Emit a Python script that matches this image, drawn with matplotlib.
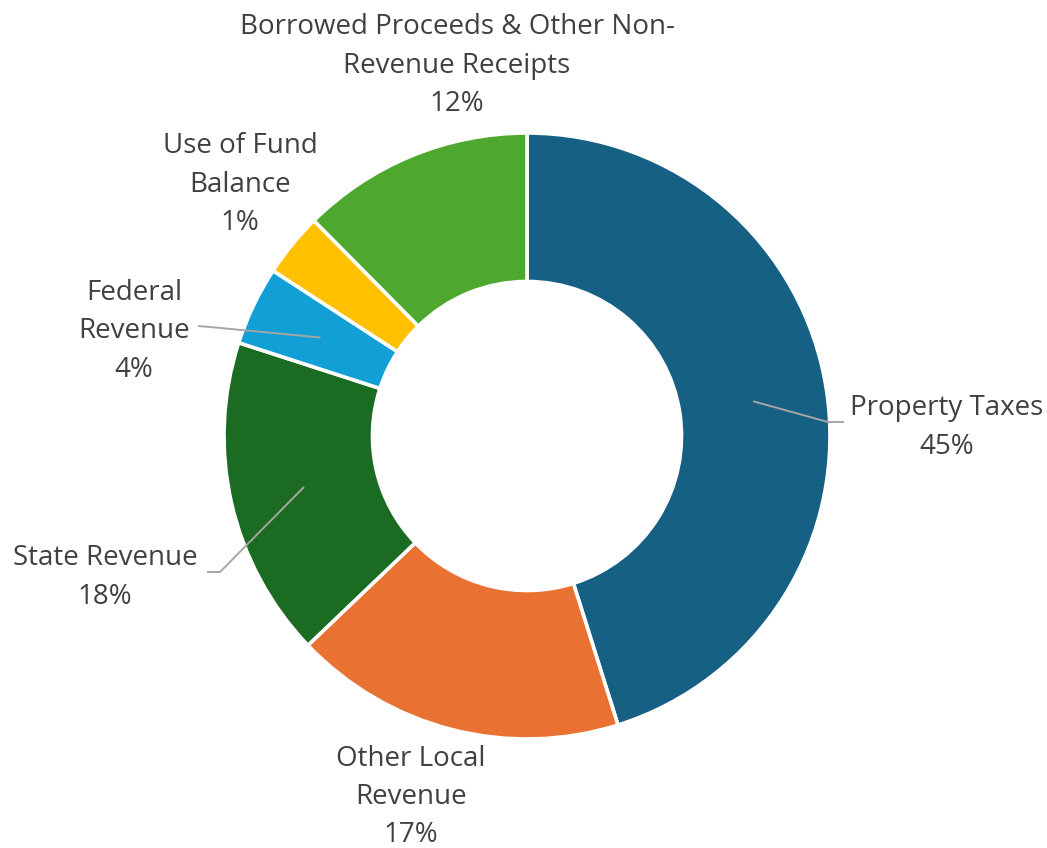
"""Donut chart: revenue sources, Excel-style data labels with leader lines."""
import matplotlib.pyplot as plt
import numpy as np

W, H = 1047, 848

categories = [
    "Property Taxes",
    "Other Local Revenue",
    "State Revenue",
    "Federal Revenue",
    "Use of Fund Balance",
    "Borrowed Proceeds & Other Non-Revenue Receipts",
]
# wedge sizes (percent of the ring)
shares = [45.1, 17.7, 17.1, 4.2, 3.4, 12.4]
# percentages printed in the data labels
pct_labels = ["45%", "17%", "18%", "4%", "1%", "12%"]
# label text as wrapped in the chart
label_lines = [
    ["Property Taxes"],
    ["Other Local", "Revenue"],
    ["State Revenue"],
    ["Federal", "Revenue"],
    ["Use of Fund", "Balance"],
    ["Borrowed Proceeds & Other Non-", "Revenue Receipts"],
]
colors = ["#166083", "#E97132", "#1B6B23", "#119FD6", "#FFC000", "#4EA72E"]

TEXT = "#404040"
LEADER = "#A6A6A6"
FS = 20
LINE_STEP = 38.5

# layout in pixels from top-left: label centre x, first baseline y
label_pos = {
    "Property Taxes": (947, 415),
    "Other Local Revenue": (411, 765.5),
    "State Revenue": (105, 565),
    "Federal Revenue": (134, 300),
    "Use of Fund Balance": (240, 153),
    "Borrowed Proceeds & Other Non-Revenue Receipts": (457, 34),
}
# leader elbows (pixels from top-left), from the wedge out to the label
leaders = {
    "Property Taxes": [(828, 422), (844, 422)],
    "State Revenue": [(220, 572), (207, 572)],
    "Federal Revenue": [(210, 327), (198, 326)],
}

CX, CY, R = 527, 436, 303
HOLE = 0.51

plt.rcParams["font.family"] = ["Open Sans", "DejaVu Sans"]

fig = plt.figure(figsize=(W / 100, H / 100), dpi=100)
ax = fig.add_axes([0, 0, 1, 1])

wedges, _ = ax.pie(
    shares, colors=colors, startangle=90, counterclock=False,
    center=(CX, H - CY), radius=R,
    wedgeprops=dict(width=R * (1 - HOLE), edgecolor="white", linewidth=2.6),
)
ax.set_xlim(0, W)
ax.set_ylim(0, H)
ax.set_aspect("equal")
ax.axis("off")

for cat, pct, lines, w in zip(categories, pct_labels, label_lines, wedges):
    x0, y0 = label_pos[cat]
    for i, txt in enumerate(lines + [pct]):
        ax.text(x0, H - (y0 + i * LINE_STEP), txt, ha="center", va="baseline",
                fontsize=FS, color=TEXT)
    if cat in leaders:
        mid = np.deg2rad((w.theta1 + w.theta2) / 2)
        r_mid = w.r - w.width / 2
        ax_pt = (w.center[0] + r_mid * np.cos(mid), w.center[1] + r_mid * np.sin(mid))
        xs = [ax_pt[0]] + [p[0] for p in leaders[cat]]
        ys = [ax_pt[1]] + [H - p[1] for p in leaders[cat]]
        ax.plot(xs, ys, color=LEADER, lw=1.4, solid_capstyle="butt")

fig.savefig("out.png", dpi=100)
